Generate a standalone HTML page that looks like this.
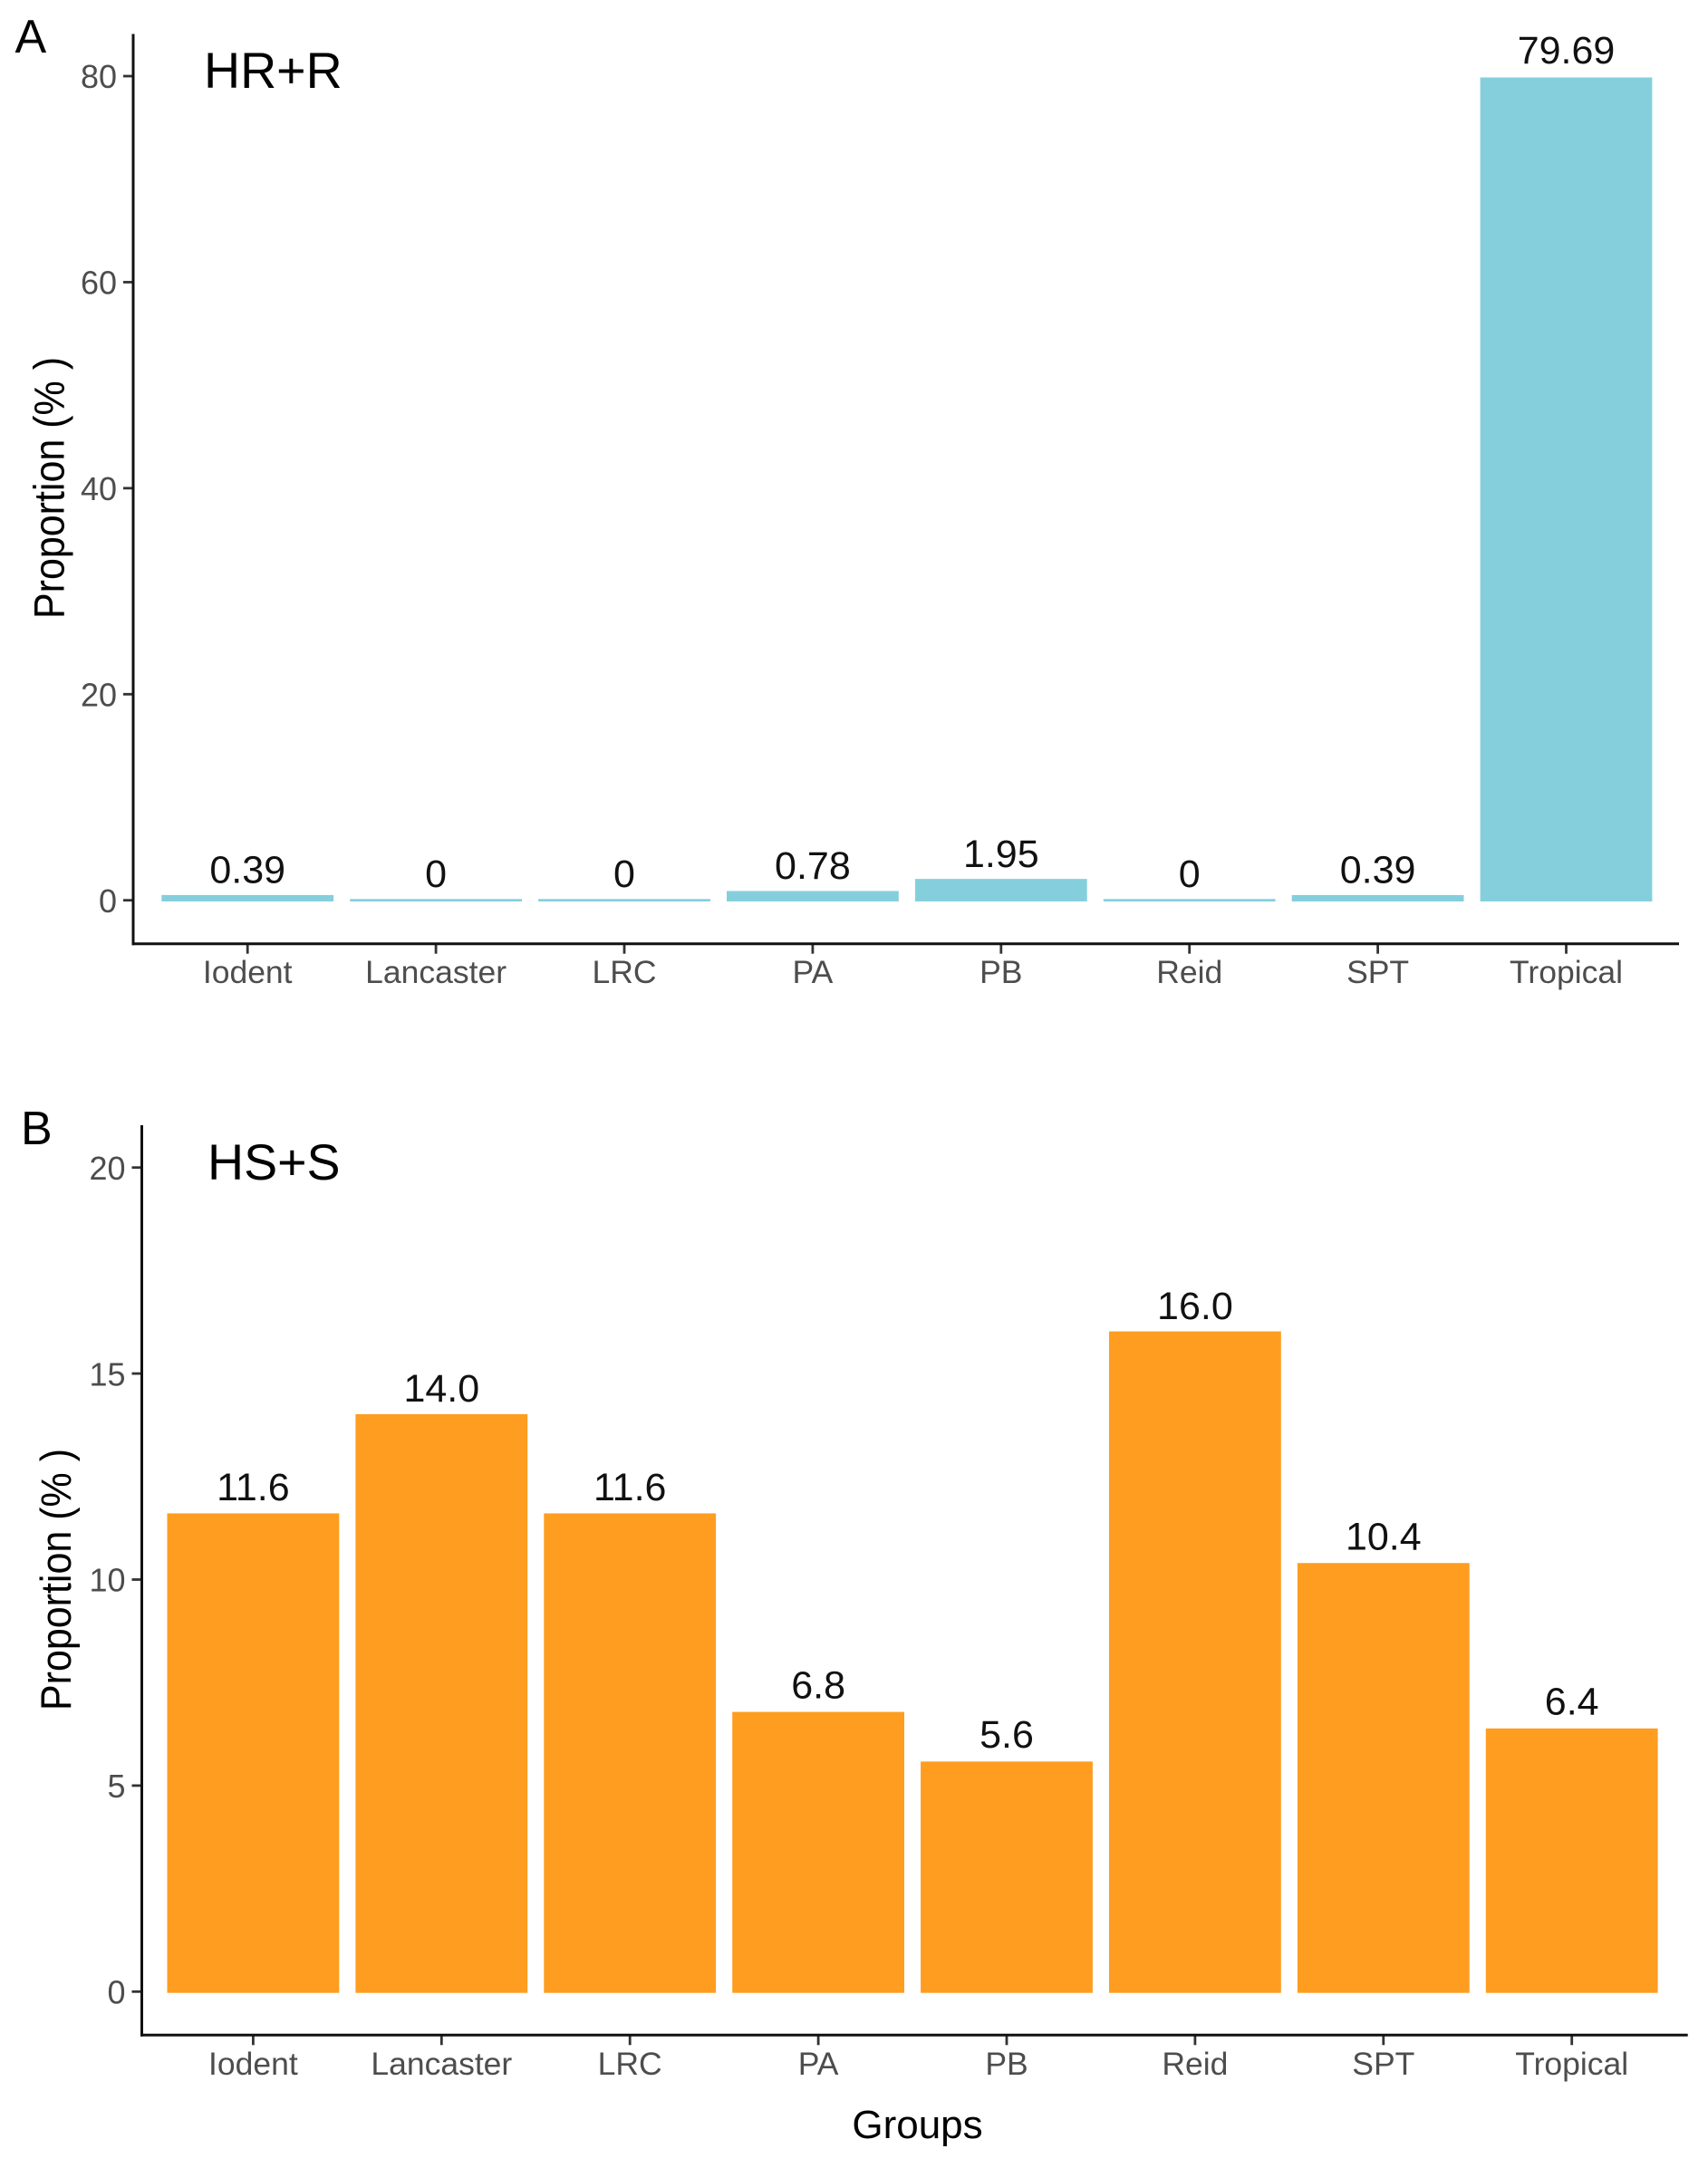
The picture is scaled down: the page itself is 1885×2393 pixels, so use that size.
<!DOCTYPE html>
<html lang="en">
<head>
<meta charset="utf-8">
<title>Proportion by group: HR+R and HS+S</title>
<style>
  html, body { margin: 0; padding: 0; background: #fff; }
  svg { display: block; }
  text { font-family: "Liberation Sans", Arial, sans-serif; }
</style>
</head>
<body>
<svg id="figure" xmlns="http://www.w3.org/2000/svg" width="1885" height="2393" viewBox="0 0 1885 2393">
  <rect x="0" y="0" width="1885" height="2393" fill="#ffffff"/>
</svg>
<script>
const categories = ['Iodent', 'Lancaster', 'LRC', 'PA', 'PB', 'Reid', 'SPT', 'Tropical'];
const valuesA = [0.39, 0, 0, 0.78, 1.95, 0, 0.39, 79.69];
const printedA = ['0.39', '0', '0', '0.78', '1.95', '0', '0.39', '79.69'];
const ticksA = [0, 20, 40, 60, 80];
const valuesB = [11.6, 14.0, 11.6, 6.8, 5.6, 16.0, 10.4, 6.4];
const printedB = ['11.6', '14.0', '11.6', '6.8', '5.6', '16.0', '10.4', '6.4'];
const ticksB = [0, 5, 10, 15, 20];

const NS = 'http://www.w3.org/2000/svg';
const svg = document.getElementById('figure');

function make(tag, attrs, parent, content) {
  const el = document.createElementNS(NS, tag);
  for (const k in attrs) el.setAttribute(k, attrs[k]);
  if (content !== undefined) el.textContent = content;
  parent.appendChild(el);
  return el;
}

function drawPanel(p) {
  const y = v => p.zeroY - v * p.pxPerUnit;
  const barTop = v => p.barZero - v * p.barScale;
  const x = i => p.firstX + i * p.step;
  const barW = p.step * 0.9 + 2.7;

  const g = make('g', {}, svg);
  
  

  // bars
  p.values.forEach((v, i) => {
    const bar = make('rect', {
      x: x(i) - barW / 2, y: barTop(v), width: barW, height: p.barBottom - barTop(v),
      fill: p.color
    }, g);
    
    

    const lab = make('text', {
      x: x(i), y: y(v) - 14.6 - v * p.labelSlope, 'text-anchor': 'middle',
      'font-size': 43, fill: '#111111'
    }, g, p.printed[i]);
    
    
  });

  // y ticks
  p.ticks.forEach(t => {
    const tk = make('line', {
      x1: p.axisX - 11, x2: p.axisX, y1: y(t), y2: y(t), stroke: '#333333', 'stroke-width': 2.8
    }, g);
    
    

    const tl = make('text', {
      x: p.axisX - 18, y: y(t) + 13.2, 'text-anchor': 'end', 'font-size': 36, fill: '#4d4d4d'
    }, g, String(t));
    
    
  });

  // x ticks
  categories.forEach((c, i) => {
    const tk = make('line', {
      x1: x(i), x2: x(i), y1: p.axisY, y2: p.axisY + 11, stroke: '#333333', 'stroke-width': 2.8
    }, g);
    
    

    const tl = make('text', {
      x: x(i), y: p.axisY + 43.5, 'text-anchor': 'middle', 'font-size': 35.5, fill: '#4d4d4d'
    }, g, c);
    
    
  });

  // axis lines
  const ya = make('line', {
    x1: p.axisX, x2: p.axisX, y1: p.axisTop, y2: p.axisY + 1.5, stroke: '#111111', 'stroke-width': 3
  }, g);
  
  

  const xa = make('line', {
    x1: p.axisX - 1.5, x2: p.axisRight, y1: p.axisY, y2: p.axisY, stroke: '#111111', 'stroke-width': 3
  }, g);
  
  

  // y-axis title
  const yt = make('text', {
    transform: 'translate(' + p.titleX + ',' + p.titleY + ') rotate(-90) scale(1,1.1)',
    'text-anchor': 'middle', 'font-size': 43, fill: '#000000'
  }, g, 'Proportion (% )');
  
  

  // panel letter and heading
  const letter = make('text', {
    x: p.letterX, y: p.letterY, 'font-size': 52, fill: '#000000'
  }, g, p.letter);
  
  

  const head = make('text', {
    x: p.headX, y: p.headY, 'font-size': 55.5, fill: '#000000'
  }, g, p.heading);
  
  
}

drawPanel({
  key: 'a', letter: 'A', heading: 'HR+R', color: '#85CFDD',
  values: valuesA, printed: printedA, ticks: ticksA,
  zeroY: 993.7, pxPerUnit: 11.371, firstX: 273.2, step: 207.9, labelSlope: 0.04,
  barZero: 992.35, barScale: 11.38, barBottom: 995,
  axisX: 147, axisY: 1041.7, axisTop: 37.5, axisRight: 1853,
  titleX: 70.5, titleY: 538.5,
  letterX: 16.5, letterY: 58, headX: 225, headY: 97
});

drawPanel({
  key: 'b', letter: 'B', heading: 'HS+S', color: '#FE9D20',
  values: valuesB, printed: printedB, ticks: ticksB,
  zeroY: 2198.3, pxPerUnit: 45.48, firstX: 279.4, step: 207.9, labelSlope: 0,
  barZero: 2200, barScale: 45.65, barBottom: 2199.7,
  axisX: 156.5, axisY: 2246.3, axisTop: 1242, axisRight: 1862.7,
  titleX: 78, titleY: 1743.5,
  letterX: 23, letterY: 1263, headX: 229, headY: 1302
});

const xTitle = make('text', {
  x: 1012.5, y: 2360, 'text-anchor': 'middle', 'font-size': 44, fill: '#000000'
}, svg, 'Groups');


</script>
</body>
</html>
